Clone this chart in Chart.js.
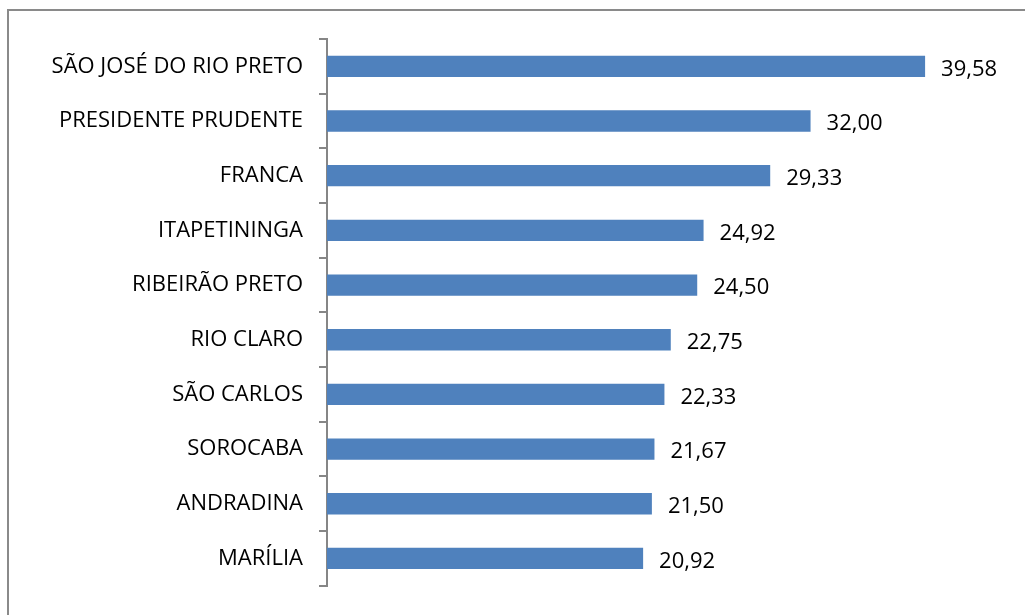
<!DOCTYPE html>
<html>
<head>
<meta charset="utf-8">
<script src="https://cdn.jsdelivr.net/npm/chart.js@4"></script>
<style>
  html, body { margin: 0; padding: 0; background: #fff; }
  #wrap { width: 1025px; height: 615px; }
</style>
</head>
<body>
<div id="wrap"><canvas id="chart" width="1025" height="615"></canvas></div>
<script>
const cities = ['SÃO JOSÉ DO RIO PRETO', 'PRESIDENTE PRUDENTE', 'FRANCA', 'ITAPETININGA',
  'RIBEIRÃO PRETO', 'RIO CLARO', 'SÃO CARLOS', 'SOROCABA', 'ANDRADINA', 'MARÍLIA'];
const values = [39.58, 32.00, 29.33, 24.92, 24.50, 22.75, 22.33, 21.67, 21.50, 20.92];

const FONT = '"Open Sans", sans-serif';
const SIZE = 22;

// moldura cinza e rótulos de valor com vírgula
const extras = {
  id: 'extras',
  beforeDraw(chart) {
    const c = chart.ctx;
    c.save();
    c.strokeStyle = '#8a8a8a';
    c.lineWidth = 2;
    c.strokeRect(8, 10, 1040, 640);
    c.restore();
  },
  afterDatasetsDraw(chart) {
    const c = chart.ctx;
    const meta = chart.getDatasetMeta(0);
    c.save();
    c.font = SIZE + 'px ' + FONT;
    c.fillStyle = '#000';
    c.textBaseline = 'middle';
    meta.data.forEach(function (bar, i) {
      c.fillText(values[i].toFixed(2).replace('.', ','), bar.x + 16, bar.y + 3);
    });
    c.restore();
  }
};

new Chart(document.getElementById('chart'), {
  type: 'bar',
  data: {
    labels: cities,
    datasets: [{
      data: values,
      backgroundColor: '#4f81bd',
      borderWidth: 0,
      barPercentage: 0.39,
      categoryPercentage: 1
    }]
  },
  options: {
    indexAxis: 'y',
    responsive: false,
    animation: false,
    layout: { padding: { top: 39, bottom: 22, right: 18, left: 0 } },
    plugins: { legend: { display: false }, tooltip: { enabled: false } },
    scales: {
      x: { display: false, min: 0, max: 45 },
      y: {
        afterFit(scale) { scale.width = 327; },
        grid: { drawOnChartArea: false, tickLength: 8, color: '#868686', lineWidth: 2 },
        border: { color: '#868686', width: 2 },
        ticks: { color: '#000', font: { family: FONT, size: SIZE }, padding: 16 }
      }
    }
  },
  plugins: [extras]
});
</script>
</body>
</html>
